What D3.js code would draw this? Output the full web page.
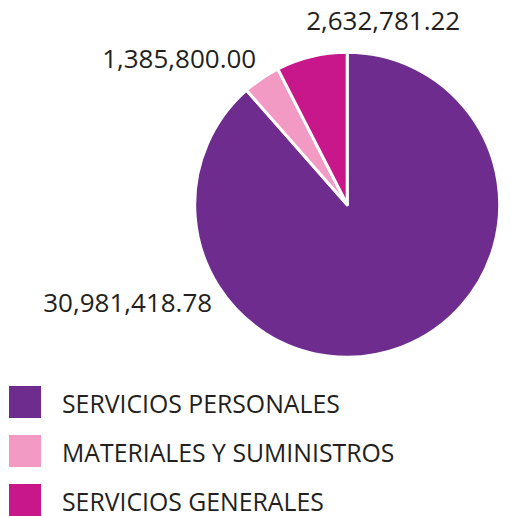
<!DOCTYPE html>
<html>
<head>
<meta charset="utf-8">
<script src="https://cdn.jsdelivr.net/npm/d3@7"></script>
<style>
  html, body { margin: 0; padding: 0; background: #fff; }
  svg { display: block; }
  text { font-family: "Open Sans", "Noto Sans", sans-serif; fill: #231f20; }
</style>
</head>
<body>
<div id="canvas"></div>
<script>
// chart data
const categories = ["SERVICIOS PERSONALES", "MATERIALES Y SUMINISTROS", "SERVICIOS GENERALES"];
const amounts = [30981418.78, 1385800.00, 2632781.22];
const colors = ["#6d2c8e", "#f39ac4", "#c7178b"];

const width = 511, height = 516;

const svg = d3.select("#canvas")
  .append("svg")
  .attr("width", width)
  .attr("height", height);

// pie layout, clockwise from 12 o'clock in data order
const pie = d3.pie().sort(null).value(d => d);
const arcs = pie(amounts);

const radius = 152.5;
const arc = d3.arc().innerRadius(0).outerRadius(radius);

const g = svg.append("g")
  .attr("transform", "translate(347.2,204.7)");

g.selectAll("path")
  .data(arcs)
  .enter()
  .append("path")
  .attr("d", arc)
  .attr("fill", (d, i) => colors[i])
  .attr("stroke", "#fff")
  .attr("stroke-width", 3)
  .attr("stroke-linejoin", "round");

// value labels sit outside the pie, nudged by hand (relative to centre)
const fmt = d3.format(",.2f");
const labelOffsets = [[-219.5, 107], [-168, -137], [36, -175]];

g.selectAll("text.value")
  .data(arcs)
  .enter()
  .append("text")
  .attr("class", "value")
  .attr("x", (d, i) => labelOffsets[i][0])
  .attr("y", (d, i) => labelOffsets[i][1])
  .attr("text-anchor", "middle")
  .attr("font-size", 26)
  .text(d => fmt(d.data));

// legend
const legend = svg.append("g").attr("transform", "translate(9,386)");
const rowY = d3.scalePoint().domain(categories).range([0, 98]);

const rows = legend.selectAll("g")
  .data(categories)
  .enter()
  .append("g")
  .attr("transform", d => "translate(0," + rowY(d) + ")");

rows.append("rect")
  .attr("width", 32)
  .attr("height", 32)
  .attr("fill", (d, i) => colors[i]);

rows.append("text")
  .attr("x", 53)
  .attr("y", 26.5)
  .attr("font-size", 24.8)
  .text(d => d);
</script>
</body>
</html>
